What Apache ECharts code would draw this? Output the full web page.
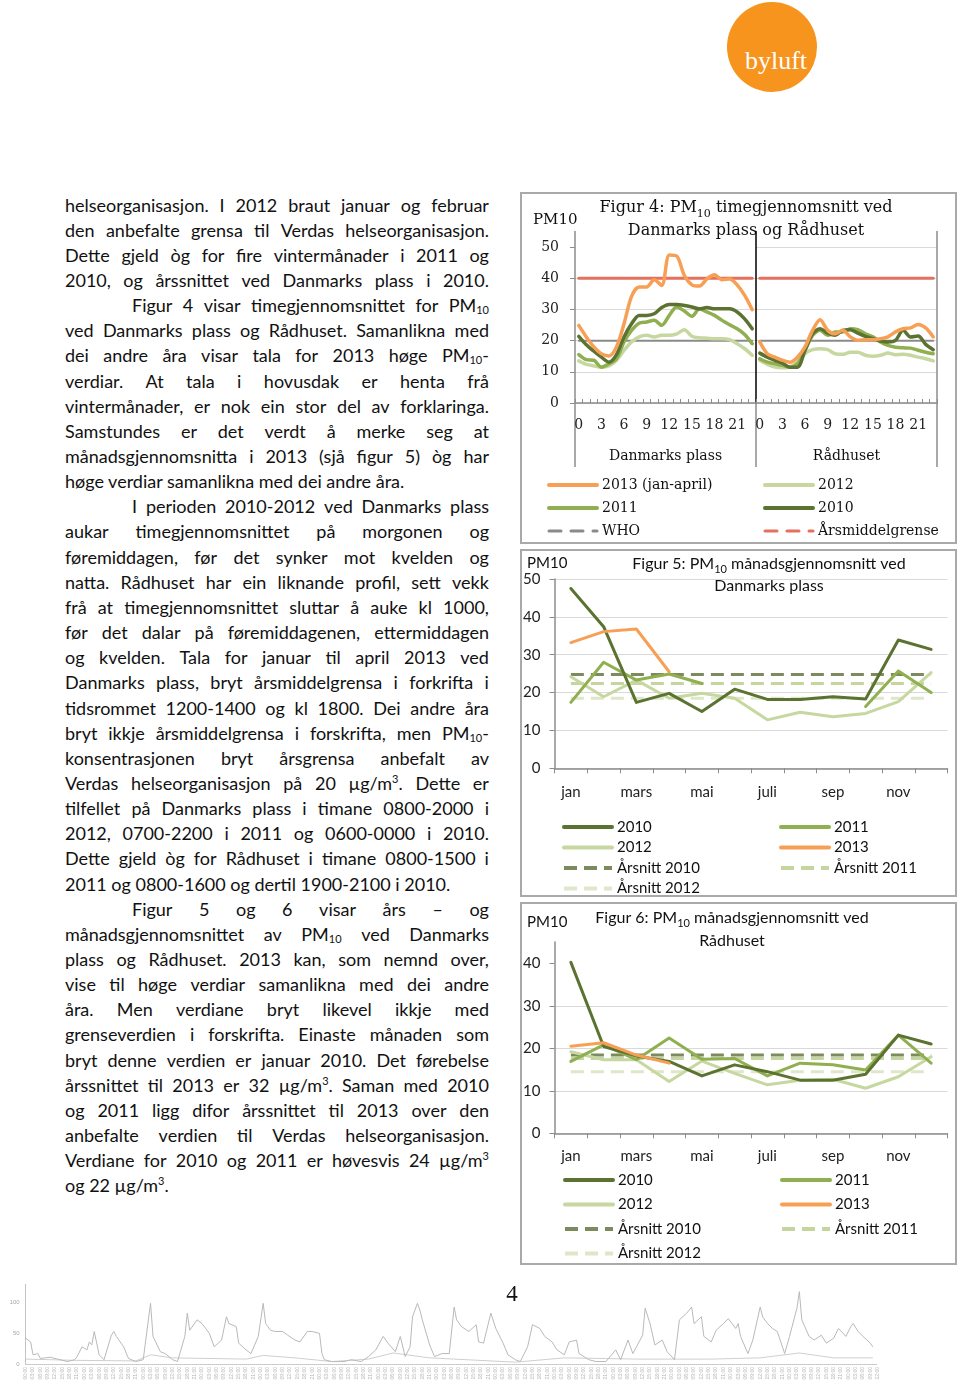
<!DOCTYPE html>
<html lang="nn">
<head>
<meta charset="utf-8">
<title>PM10 – Danmarks plass og Rådhuset</title>
<script src="https://cdn.jsdelivr.net/npm/echarts@6.0.0/dist/echarts.min.js"></script>
<style>
html,body{margin:0;padding:0;background:#fff;}
body{width:960px;height:1392px;position:relative;overflow:hidden;}
#logo{position:absolute;left:727px;top:2px;width:90px;height:90px;border-radius:50%;background:#F7941E;}
#logoText{position:absolute;left:4px;width:90px;top:46px;line-height:26px;text-align:center;color:#fff;font-family:'Liberation Serif',serif;font-size:26px;}
#body{position:absolute;left:65px;top:192.5px;width:424px;font-family:Lato,'Open Sans',sans-serif;font-size:18px;color:#111;}
.line{position:absolute;left:0;box-sizing:border-box;width:424px;height:25px;line-height:25px;white-space:nowrap;}
.line.j{display:flex;justify-content:space-between;align-items:baseline;}
sub{font-size:11px;vertical-align:-2px;line-height:0;}
sup{font-size:11px;vertical-align:7px;line-height:0;}
.chart{position:absolute;left:520px;width:437px;}
.frame{position:absolute;left:520px;width:437px;box-sizing:border-box;border:2px solid #a9a9a9;pointer-events:none;}
#pageNo{position:absolute;left:500px;top:1281px;width:24px;text-align:center;font-family:'Liberation Serif',serif;font-size:23px;color:#111;}
#footer{position:absolute;left:0;top:1275px;width:900px;height:117px;}
</style>
</head>
<body>
<div id="logo"><div id="logoText">byluft</div></div>
<div id="body"></div>
<div id="fig4" class="chart" style="top:192px;height:352px;"></div>
<div class="frame" style="top:192px;height:352px;"></div>
<div id="fig5" class="chart" style="top:549px;height:348px;"></div>
<div class="frame" style="top:549px;height:348px;"></div>
<div id="fig6" class="chart" style="top:902px;height:363px;"></div>
<div class="frame" style="top:902px;height:363px;"></div>
<div id="footer"></div>
<div id="pageNo">4</div>
<script>
// ---------------- DATA ----------------
// Figur 4: hourly means (hours 0-23)
const hourLabels = ['0','1','2','3','4','5','6','7','8','9','10','11','12','13','14','15','16','17','18','19','20','21','22','23'];
const dp2013 = [24.9,21.2,18.0,15.8,15.1,18.0,25.4,34.2,37.2,37.2,39.5,37.7,47.5,47.1,40.9,37.9,37.5,39.8,41.1,39.5,39.8,37.9,34.5,29.9];
const dp2012 = [13.5,12.4,11.9,11.5,11.9,13.7,16.9,19.6,21.2,21.7,21.2,21.7,21.7,22.2,23.5,21.4,20.9,20.8,20.6,20.6,20.3,19.0,17.4,15.3];
const dp2011 = [15.5,13.9,13.7,11.5,12.6,14.2,19.6,23.3,25.6,26.0,26.5,24.9,28.1,30.8,29.5,27.8,30.2,29.2,28.1,26.5,25.1,23.8,22.0,19.0];
const dp2010 = [21.4,18.7,16.6,14.7,13.1,15.5,21.2,25.4,28.1,28.1,28.6,30.6,31.6,31.6,31.3,30.8,30.2,30.6,30.2,30.2,30.2,29.2,27.0,23.8];
const rh2013 = [19.6,15.8,14.7,13.7,13.1,14.7,18.0,23.3,26.7,23.3,22.2,23.3,21.2,20.1,20.3,20.3,20.6,21.2,22.8,23.8,24.1,25.2,24.1,21.2];
const rh2012 = [13.7,12.4,11.5,11.3,11.5,13.1,15.8,17.1,17.4,17.1,15.8,15.6,16.3,16.3,15.3,15.0,15.3,16.0,15.5,15.6,15.3,14.7,14.2,13.5];
const rh2011 = [14.2,13.1,12.6,12.1,11.5,12.6,16.9,21.7,23.3,21.7,22.8,22.8,23.8,23.5,22.2,21.2,19.6,18.5,17.9,17.7,17.6,16.9,16.3,15.8];
const rh2010 = [16.0,14.7,13.7,12.8,11.5,11.5,16.9,22.2,23.8,22.4,21.7,23.3,23.5,22.4,21.4,20.6,19.9,19.6,20.1,23.3,21.2,21.5,18.8,17.1];
const whoLimit = [20,20,20,20,20,20,20,20,20,20,20,20,20,20,20,20,20,20,20,20,20,20,20,20];
const annualLimit = [40,40,40,40,40,40,40,40,40,40,40,40,40,40,40,40,40,40,40,40,40,40,40,40];
const fig4YTicks = [0,10,20,30,40,50];

// Figur 5 / 6: monthly means
const months = ['jan','feb','mars','april','mai','juni','juli','aug','sep','okt','nov','des'];
const f5y2010 = [47.5,37.4,17.4,19.8,15.0,20.9,18.2,18.2,18.9,18.3,33.9,31.4];
const f5y2011 = [17.4,28.0,23.3,24.9,22.4,null,null,null,null,16.3,25.7,20.0];
const f5y2012 = [24.2,18.9,23.3,18.5,19.8,18.5,12.8,14.8,13.6,14.5,17.6,25.3];
const f5y2013 = [33.2,36.1,36.8,25.5];
const f5avg2010 = [24.8,24.8,24.8,24.8,24.8,24.8,24.8,24.8,24.8,24.8,24.8,24.8];
const f5avg2011 = [22.4,22.4,22.4,22.4,22.4,22.4,22.4,22.4,22.4,22.4,22.4,22.4];
const f5avg2012 = [18.5,18.5,18.5,18.5,18.5,18.5,18.5,18.5,18.5,18.5,18.5,18.5];
const fig5YTicks = [0,10,20,30,40,50];

const f6y2010 = [40.2,20.4,18.2,16.9,13.5,16.1,14.5,12.5,12.5,13.9,23.1,21.0];
const f6y2011 = [16.9,20.8,17.3,22.4,17.4,17.6,13.5,16.5,16.1,14.9,23.1,16.5];
const f6y2012 = [19.2,17.3,17.3,12.2,17.0,14.1,11.4,12.5,12.7,10.6,13.3,18.0];
const f6y2013 = [20.5,21.3,18.4,16.5];
const f6avg2010 = [18.4,18.4,18.4,18.4,18.4,18.4,18.4,18.4,18.4,18.4,18.4,18.4];
const f6avg2011 = [17.6,17.6,17.6,17.6,17.6,17.6,17.6,17.6,17.6,17.6,17.6,17.6];
const f6avg2012 = [14.5,14.5,14.5,14.5,14.5,14.5,14.5,14.5,14.5,14.5,14.5,14.5];
const fig6YTicks = [0,10,20,30,40];

// faint background time series at page foot (hour index, PM10)
const footerHours = [0,2,3,5,6,10,13,17,20,21,23,25,26,27,28,30,32,35,36,37,40,42,45,48,51,52,55,57,60,62,65,66,67,70,72,75,77,80,82,83,86,87,90,92,95,97,98,100,102,105,107,110,112,115,117,120,121,122,125,130,133,137,140,143,146,148,151,153,155,157,158,160,161,162,165,167,170,173,175,176,178,181,184,185,187,190,192,195,197,200,202,205,207,210,212,215,217,220,222,225,226,230,233,237,241,243,246,248,252,253,255,257,260,262,265,267,270,272,273,276,277,280,282,285,287,290,291,292,295,297,300,301,303,305,307,310,312,315,316,317,320,322,325,327,330,332,335,337,338,340,342,345,346];
const footerPM10 = [42,36,15,17,9,11,8,4,7,12,28,23,36,31,53,15,7,47,53,45,28,9,4,7,99,45,20,17,7,4,45,83,55,72,66,50,28,39,77,66,61,34,23,17,45,99,66,55,53,53,47,39,36,53,53,50,17,7,4,4,7,4,12,23,45,34,20,45,12,28,77,99,88,72,31,12,17,17,93,72,61,53,64,36,34,83,58,34,15,7,4,28,64,58,45,36,23,15,36,39,17,7,4,4,23,7,39,17,47,91,66,31,39,20,7,72,83,93,66,77,45,36,55,66,74,58,66,45,17,39,93,77,66,58,53,17,45,91,118,72,45,39,47,34,42,58,45,61,66,53,45,34,28];
const footerLowHours = [0,20,45,51,60,90,97,110,125,140,150,165,200,220,250,280,300,316,330,346];
const footerLowPM10 = [8,6,5,15,10,8,14,10,4,8,18,10,3,10,8,8,10,18,10,10];

// ---------------- BODY TEXT ----------------
const bodyLines = [
 {t:'helseorganisasjon. I 2012 braut januar og februar', j:1},
 {t:'den anbefalte grensa til Verdas helseorganisasjon.', j:1},
 {t:'Dette gjeld òg for fire vintermånader i 2011 og', j:1},
 {t:'2010, og årssnittet ved Danmarks plass i 2010.', j:1},
 {t:'Figur 4 visar timegjennomsnittet for PM<sub>10</sub>', j:1, ind:1},
 {t:'ved Danmarks plass og Rådhuset. Samanlikna med', j:1},
 {t:'dei andre åra visar tala for 2013 høge PM<sub>10</sub>-', j:1},
 {t:'verdiar. At tala i hovusdak er henta frå', j:1},
 {t:'vintermånader, er nok ein stor del av forklaringa.', j:1},
 {t:'Samstundes er det verdt å merke seg at', j:1},
 {t:'månadsgjennomsnitta i 2013 (sjå figur 5) òg har', j:1},
 {t:'høge verdiar samanlikna med dei andre åra.', j:0},
 {t:'I perioden 2010-2012 ved Danmarks plass', j:1, ind:1},
 {t:'aukar timegjennomsnittet på morgonen og', j:1},
 {t:'føremiddagen, før det synker mot kvelden og', j:1},
 {t:'natta. Rådhuset har ein liknande profil, sett vekk', j:1},
 {t:'frå at timegjennomsnittet sluttar å auke kl 1000,', j:1},
 {t:'før det dalar på føremiddagenen, ettermiddagen', j:1},
 {t:'og kvelden. Tala for januar til april 2013 ved', j:1},
 {t:'Danmarks plass, bryt årsmiddelgrensa i forkrifta i', j:1},
 {t:'tidsrommet 1200-1400 og kl 1800. Dei andre åra', j:1},
 {t:'bryt ikkje årsmiddelgrensa i forskrifta, men PM<sub>10</sub>-', j:1},
 {t:'konsentrasjonen bryt årsgrensa anbefalt av', j:1},
 {t:'Verdas helseorganisasjon på 20 µg/m<sup>3</sup>. Dette er', j:1},
 {t:'tilfellet på Danmarks plass i timane 0800-2000 i', j:1},
 {t:'2012, 0700-2200 i 2011 og 0600-0000 i 2010.', j:1},
 {t:'Dette gjeld òg for Rådhuset i timane 0800-1500 i', j:1},
 {t:'2011 og 0800-1600 og dertil 1900-2100 i 2010.', j:0},
 {t:'Figur 5 og 6 visar års – og', j:1, ind:1},
 {t:'månadsgjennomsnittet av PM<sub>10</sub> ved Danmarks', j:1},
 {t:'plass og Rådhuset. 2013 kan, som nemnd over,', j:1},
 {t:'vise til høge verdiar samanlikna med dei andre', j:1},
 {t:'åra. Men verdiane bryt likevel ikkje med', j:1},
 {t:'grenseverdien i forskrifta. Einaste månaden som', j:1},
 {t:'bryt denne verdien er januar 2010. Det førebelse', j:1},
 {t:'årssnittet til 2013 er 32 µg/m<sup>3</sup>. Saman med 2010', j:1},
 {t:'og 2011 ligg difor årssnittet til 2013 over den', j:1},
 {t:'anbefalte verdien til Verdas helseorganisasjon.', j:1},
 {t:'Verdiane for 2010 og 2011 er høvesvis 24 µg/m<sup>3</sup>', j:1},
 {t:'og 22 µg/m<sup>3</sup>.', j:0}
];
const LINE_H = 25.15, BODY_W = 424, INDENT = 67;

function layoutBody(){
  const host = document.getElementById('body');
  host.innerHTML = '';
  bodyLines.forEach((ln, i) => {
    const d = document.createElement('div');
    d.className = 'line';
    d.style.top = (i * LINE_H) + 'px';
    const indent = ln.ind ? INDENT : 0;
    d.style.paddingLeft = indent + 'px';
    host.appendChild(d);
    const m = document.createElement('span');
    m.innerHTML = ln.t;
    d.appendChild(m);
    const natural = m.getBoundingClientRect().width;
    const avail = BODY_W - indent;
    let ls = 0;
    if (natural > avail - 2) ls = (avail - 2 - natural) / m.textContent.length;
    d.innerHTML = '';
    d.style.letterSpacing = ls + 'px';
    if (ln.j) {
      d.classList.add('j');
      ln.t.split(' ').forEach(w => {
        const s = document.createElement('span');
        s.innerHTML = w;
        d.appendChild(s);
      });
    } else {
      d.innerHTML = ln.t;
    }
  });
}
layoutBody();
if (document.fonts && document.fonts.ready) document.fonts.ready.then(layoutBody);

// ---------------- CHARTS ----------------
const SERIF = "'DejaVu Serif', serif";
const SANS = "Lato, 'Open Sans', sans-serif";
const AX = '#8c8c8c';
const GRIDC = '#d9d9d9';
const C2013 = '#F7A055', C2012 = '#C6D8A0', C2011 = '#8FAF50', C2010 = '#5C7230';
const CWHO = '#8a8a8a', CLIM = '#E4705E';
const CAVG10 = '#7C8B5E', CAVG11 = '#C4D69E', CAVG12 = '#DEE7C9';
const NOSYM = { color: 'rgba(0,0,0,0)', borderColor: 'rgba(0,0,0,0)', borderWidth: 0, opacity: 0 };

function line(name, data, color, width, xi, yi, extra) {
  return Object.assign({
    type: 'line', name, data, xAxisIndex: xi, yAxisIndex: yi,
    symbol: 'none', showSymbol: false, connectNulls: false,
    lineStyle: { color, width, cap: 'round', join: 'round' },
    itemStyle: { color }, emphasis: { disabled: true }, silent: true
  }, extra || {});
}
function titleText(x, y, parts, font, size, lh) {
  return {
    type: 'text', x, y, silent: true,
    style: {
      text: parts, align: 'center', verticalAlign: 'top',
      rich: {
        a: { fontFamily: font, fontSize: size, fill: '#111', color: '#111', lineHeight: lh },
        s: { fontFamily: font, fontSize: Math.round(size * 0.68), fill: '#111', color: '#111', lineHeight: 13, verticalAlign: 'bottom' }
      }
    }
  };
}

// ---- Figur 4 ----
(function(){
  const ch = echarts.init(document.getElementById('fig4'));
  const xAx = (gi, name) => ({
    type: 'category', gridIndex: gi, data: hourLabels, boundaryGap: true,
    axisLine: { show: true, onZero: false, lineStyle: { color: AX, width: 1.5 } },
    axisTick: { show: true, inside: true, length: 4, interval: 0, lineStyle: { color: AX } },
    axisLabel: { interval: 2, margin: 15, fontFamily: SERIF, fontSize: 14, color: '#222' },
    splitLine: { show: false },
    name, nameLocation: 'middle', nameGap: 46,
    nameTextStyle: { fontFamily: SERIF, fontSize: 14, color: '#111' }
  });
  const yBase = { type: 'value', min: 0, max: 55, interval: 10 };
  const legendCommon = {
    orient: 'vertical', itemWidth: 48, itemHeight: 16, itemGap: 7, padding: 0, height: 90, selectedMode: false,
    itemStyle: NOSYM, lineStyle: { width: 4 },
    textStyle: { fontFamily: SERIF, fontSize: 14, color: '#111', lineHeight: 16 }
  };
  const series = [];
  [[0,0,dp2013,dp2012,dp2011,dp2010],[1,1,rh2013,rh2012,rh2011,rh2010]].forEach(p => {
    const [xi, yi, a13, a12, a11, a10] = p;
    series.push(line('WHO', whoLimit, CWHO, 2, xi, yi));
    series.push(line('Årsmiddelgrense', annualLimit, CLIM, 3, xi, yi));
    series.push(line('2012', a12, C2012, 3.5, xi, yi, { smooth: 0.3 }));
    series.push(line('2011', a11, C2011, 3.5, xi, yi, { smooth: 0.3 }));
    series.push(line('2010', a10, C2010, 3.5, xi, yi, { smooth: 0.3 }));
    series.push(line('2013 (jan-april)', a13, C2013, 3.5, xi, yi, { smooth: 0.3 }));
  });
  ch.setOption({
    animation: false,
    grid: [
      { left: 55, top: 39.5, width: 181, height: 171.5, outerBoundsMode: 'none', containLabel: false },
      { left: 236, top: 39.5, width: 181, height: 171.5, outerBoundsMode: 'none', containLabel: false }
    ],
    xAxis: [xAx(0, 'Danmarks plass'), xAx(1, 'Rådhuset')],
    yAxis: [
      Object.assign({}, yBase, { gridIndex: 0,
        axisLine: { show: true, lineStyle: { color: AX, width: 1.5 } },
        axisTick: { show: true, length: 5, lineStyle: { color: AX }, customValues: fig4YTicks },
        axisLabel: { margin: 16, fontFamily: SERIF, fontSize: 14, color: '#222', customValues: fig4YTicks },
        splitLine: { show: true, showMaxLine: false, lineStyle: { color: GRIDC, width: 1 } } }),
      Object.assign({}, yBase, { gridIndex: 1,
        axisLine: { show: true, lineStyle: { color: '#000', width: 1.5 } },
        axisTick: { show: false }, axisLabel: { show: false },
        splitLine: { show: true, showMaxLine: false, lineStyle: { color: GRIDC, width: 1 } } }),
      Object.assign({}, yBase, { gridIndex: 1, position: 'right',
        axisLine: { show: true, lineStyle: { color: AX, width: 1.5 } },
        axisTick: { show: false }, axisLabel: { show: false }, splitLine: { show: false } })
    ],
    legend: [
      Object.assign({}, legendCommon, { left: 27, top: 285,
        data: [{ name: '2013 (jan-april)' }, { name: '2011' }, { name: 'WHO', lineStyle: { type: [12, 10], width: 3 } }] }),
      Object.assign({}, legendCommon, { left: 243, top: 285,
        data: [{ name: '2012' }, { name: '2010' }, { name: 'Årsmiddelgrense', lineStyle: { type: [12, 10], width: 3 } }] })
    ],
    graphic: [
      { type: 'line', silent: true, shape: { x1: 55, y1: 211, x2: 55, y2: 275 }, style: { stroke: AX, lineWidth: 1.5 } },
      { type: 'line', silent: true, shape: { x1: 236, y1: 211, x2: 236, y2: 275 }, style: { stroke: AX, lineWidth: 1.5 } },
      { type: 'line', silent: true, shape: { x1: 417, y1: 211, x2: 417, y2: 275 }, style: { stroke: AX, lineWidth: 1.5 } },
      { type: 'text', silent: true, x: 13, y: 28, style: { text: 'PM10', fontFamily: SERIF, fontSize: 15, fill: '#111', verticalAlign: 'middle', align: 'left' } },
      titleText(226, 5, '{a|Figur 4: PM}{s|10}{a| timegjennomsnitt ved}\n{a|Danmarks plass og Rådhuset}', SERIF, 16, 22.5)
    ],
    series
  });
})();

// ---- Figur 5 & 6 ----
function monthly(id, cfg) {
  const ch = echarts.init(document.getElementById(id));
  const legendCommon = {
    orient: 'vertical', itemWidth: 48, itemHeight: 16, itemGap: cfg.legendGap, padding: 0, height: 100, selectedMode: false,
    itemStyle: NOSYM, lineStyle: { width: 4 },
    textStyle: { fontFamily: SANS, fontSize: 15, color: '#111', lineHeight: 16 }
  };
  const dash = [13, 7];
  ch.setOption({
    animation: false,
    grid: { left: 34.5, top: cfg.gridTop, width: 393, height: cfg.gridH, outerBoundsMode: 'none', containLabel: false },
    xAxis: {
      type: 'category', data: months, boundaryGap: true,
      axisLine: { show: true, onZero: false, lineStyle: { color: AX, width: 1.5 } },
      axisTick: { show: true, length: 5, interval: 0, lineStyle: { color: AX } },
      axisLabel: { interval: 1, margin: cfg.xMargin, fontFamily: SANS, fontSize: 15, color: '#222' },
      splitLine: { show: false }
    },
    yAxis: {
      type: 'value', min: 0, max: cfg.yMax, interval: 10,
      axisLine: { show: true, lineStyle: { color: AX, width: 1.5 } },
      axisTick: { show: true, length: 5, lineStyle: { color: AX }, customValues: cfg.yTicks },
      axisLabel: { margin: 14, fontFamily: SANS, fontSize: 15, color: '#222', customValues: cfg.yTicks },
      splitLine: { show: true, showMaxLine: cfg.maxLine, lineStyle: { color: GRIDC, width: 1 } }
    },
    legend: [
      Object.assign({}, legendCommon, { left: cfg.legL, top: cfg.legTop, data: ['2010', '2012', 'Årsnitt 2010', 'Årsnitt 2012'] }),
      Object.assign({}, legendCommon, { left: cfg.legR, top: cfg.legTop, data: ['2011', '2013', 'Årsnitt 2011'] })
    ],
    graphic: [
      { type: 'text', silent: true, x: 7, y: cfg.pmY, style: { text: 'PM10', fontFamily: SANS, fontSize: 15, fill: '#111', verticalAlign: 'middle', align: 'left' } },
      titleText(cfg.titleX, cfg.titleY, cfg.title, SANS, 16, cfg.titleLH)
    ],
    series: [
      line('Årsnitt 2012', cfg.avg12, CAVG12, 3, 0, 0, { lineStyle: { color: CAVG12, width: 3, type: dash } }),
      line('Årsnitt 2011', cfg.avg11, CAVG11, 3, 0, 0, { lineStyle: { color: CAVG11, width: 3, type: dash } }),
      line('Årsnitt 2010', cfg.avg10, CAVG10, 3, 0, 0, { lineStyle: { color: CAVG10, width: 3, type: dash } }),
      line('2012', cfg.y12, C2012, 3, 0, 0),
      line('2011', cfg.y11, C2011, 3, 0, 0),
      line('2010', cfg.y10, C2010, 3, 0, 0),
      line('2013', cfg.y13, C2013, 3, 0, 0)
    ]
  });
}
monthly('fig5', {
  gridTop: 30, gridH: 189.3, yMax: 50, yTicks: fig5YTicks, maxLine: true, xMargin: 16,
  legendGap: 4.5, legL: 42, legR: 259, legTop: 270, pmY: 14,
  titleX: 249, titleY: 3, titleLH: 22.7,
  title: '{a|Figur 5: PM}{s|10}{a| månadsgjennomsnitt ved}\n{a|Danmarks plass}',
  y10: f5y2010, y11: f5y2011, y12: f5y2012, y13: f5y2013, avg10: f5avg2010, avg11: f5avg2011, avg12: f5avg2012
});
monthly('fig6', {
  gridTop: 40, gridH: 191.3, yMax: 45, yTicks: fig6YTicks, maxLine: false, xMargin: 15,
  legendGap: 8.5, legL: 43, legR: 260, legTop: 270, pmY: 20,
  titleX: 212, titleY: 4, titleLH: 23,
  title: '{a|Figur 6: PM}{s|10}{a| månadsgjennomsnitt ved}\n{a|Rådhuset}',
  y10: f6y2010, y11: f6y2011, y12: f6y2012, y13: f6y2013, avg10: f6avg2010, avg11: f6avg2011, avg12: f6avg2012
});

// ---- faint footer chart ----
(function(){
  const ch = echarts.init(document.getElementById('footer'));
  const pad = n => (n < 10 ? '0' : '') + n;
  const main = footerHours.map((h, i) => [h, footerPM10[i]]);
  const low = footerLowHours.map((h, i) => [h, footerLowPM10[i]]);
  ch.setOption({
    animation: false,
    grid: { left: 25.7, top: 9.3, width: 852, height: 79.7, outerBoundsMode: 'none', containLabel: false },
    xAxis: {
      type: 'value', min: 0, max: 348, interval: 3,
      axisLine: { show: true, lineStyle: { color: '#c4c4c4', type: 'dotted' } },
      axisTick: { show: false }, splitLine: { show: false },
      axisLabel: { rotate: 90, fontSize: 5, color: '#b4b4b4', margin: 3, formatter: v => pad(Math.round(v) % 24) + ':00' }
    },
    yAxis: {
      type: 'value', min: 0, max: 130, interval: 50,
      axisLine: { show: true, lineStyle: { color: '#c4c4c4' } },
      axisTick: { show: false }, splitLine: { show: false },
      axisLabel: { fontSize: 6, color: '#a8a8a8', margin: 6, customValues: [0, 50, 100] }
    },
    series: [
      { type: 'line', data: low, symbol: 'none', silent: true, lineStyle: { color: '#cfcfcf', width: 1 } },
      { type: 'line', data: main, symbol: 'none', silent: true, lineStyle: { color: '#b9b9b9', width: 1 } }
    ]
  });
})();
</script>
</body>
</html>
